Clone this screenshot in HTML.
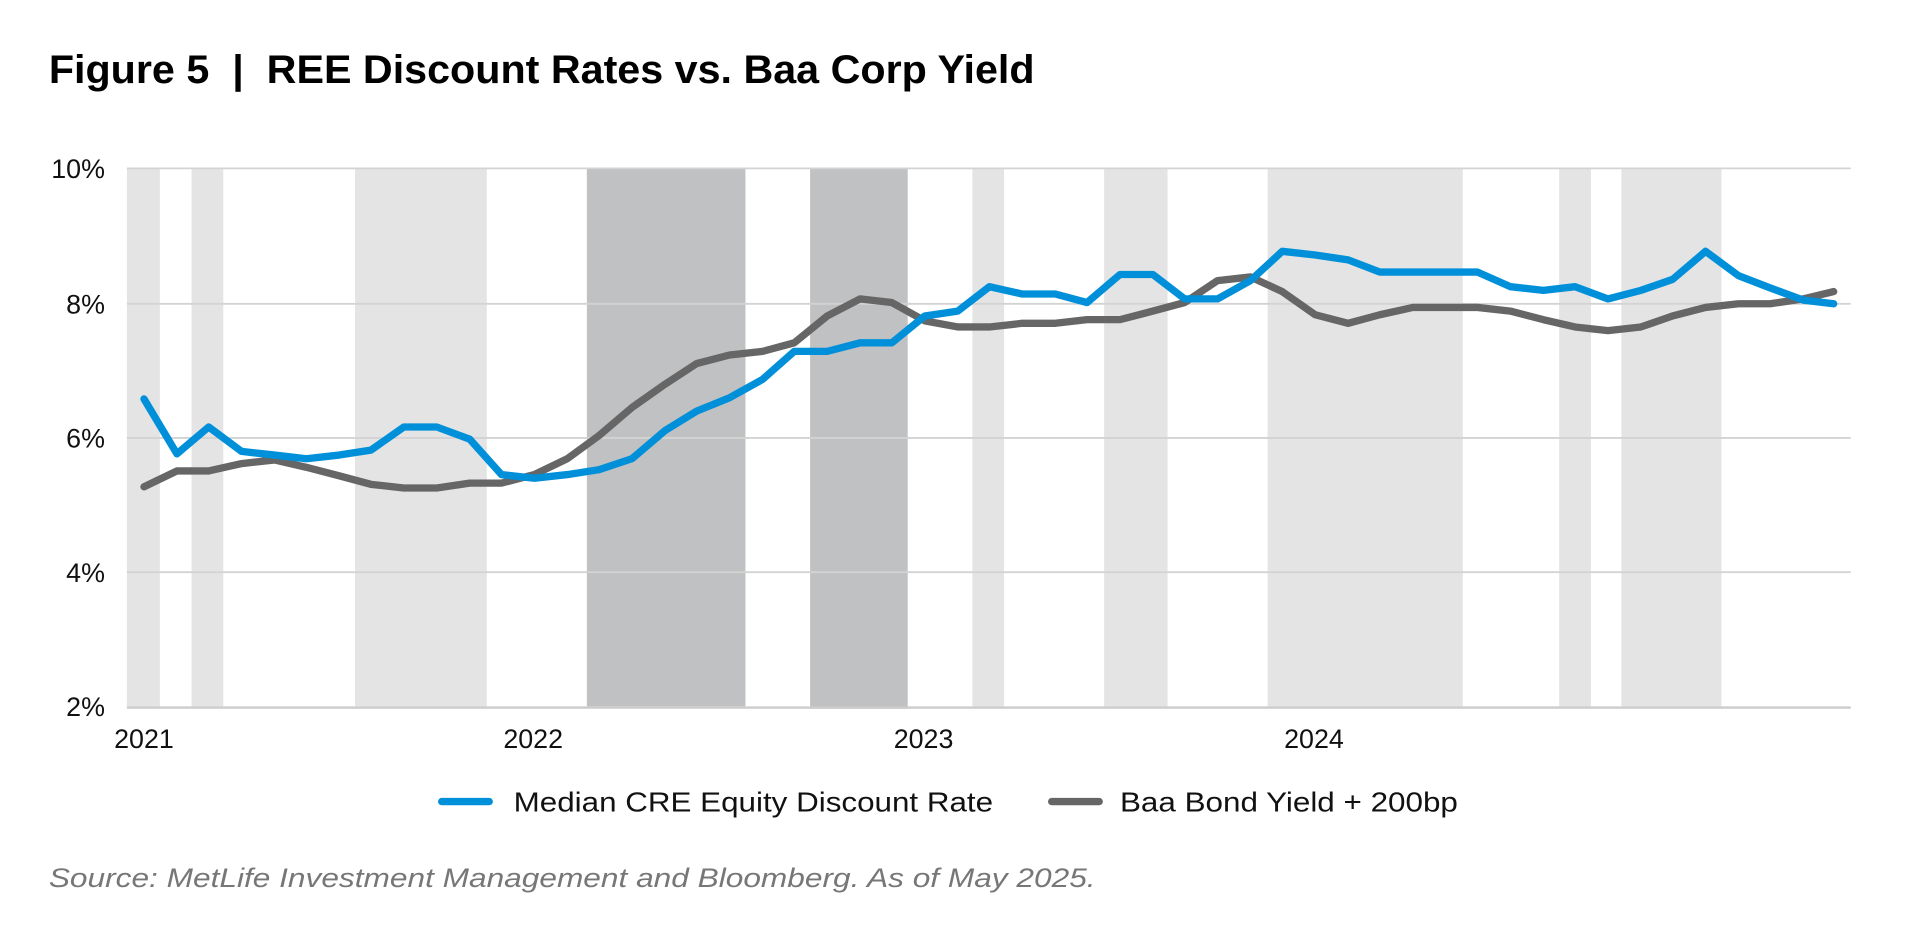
<!DOCTYPE html>
<html><head><meta charset="utf-8"><style>
html,body{margin:0;padding:0;background:#fff;width:1913px;height:945px;overflow:hidden}
svg{display:block}
text{font-family:"Liberation Sans",sans-serif}
</style></head><body>
<svg width="1913" height="945" viewBox="0 0 1568 774.6" xmlns="http://www.w3.org/2000/svg">
<text x="40" y="68" font-size="33" font-weight="bold" fill="#000" textLength="808" lengthAdjust="spacingAndGlyphs" xml:space="preserve">Figure 5  |  REE Discount Rates vs. Baa Corp Yield</text>
<g fill="#e4e4e4">
<rect x="104" y="138" width="27" height="441"/>
<rect x="157" y="138" width="26" height="441"/>
<rect x="291" y="138" width="108" height="441"/>
<rect x="797" y="138" width="26" height="441"/>
<rect x="905" y="138" width="52" height="441"/>
<rect x="1039" y="138" width="160" height="441"/>
<rect x="1278" y="138" width="26" height="441"/>
<rect x="1329" y="138" width="82" height="441"/>
</g>
<g fill="#c0c1c3">
<rect x="481" y="138" width="130" height="441"/>
<rect x="664" y="138" width="80" height="443"/>
</g>
<g stroke="#d3d3d3" stroke-width="1.5">
<line x1="104" x2="1517" y1="138" y2="138"/>
<line x1="104" x2="1517" y1="249" y2="249"/>
<line x1="104" x2="1517" y1="359" y2="359"/>
<line x1="104" x2="1517" y1="469" y2="469"/>
<line x1="104" x2="1517" y1="580" y2="580" stroke="#ccc" stroke-width="2"/>
</g>
<g font-size="22" fill="#111" text-anchor="end">
<text x="86" y="146">10%</text>
<text x="86" y="257">8%</text>
<text x="86" y="367">6%</text>
<text x="86" y="477">4%</text>
<text x="86" y="587">2%</text>
</g>
<g font-size="22" fill="#111" text-anchor="middle">
<text x="118" y="613">2021</text>
<text x="437" y="613">2022</text>
<text x="757" y="613">2023</text>
<text x="1077" y="613">2024</text>
</g>
<polyline fill="none" stroke="#666" stroke-width="6" stroke-linejoin="round" stroke-linecap="round" points="118,399 145,386 171,386 198,380 225,377 251,383 278,390 304,397 331,400 358,400 385,396 411,396 438,389 465,376 491,357 518,334 545,315 571,298 598,291 625,288 651,281 678,259 705,245 731,248 758,263 785,268 811,268 838,265 865,265 891,262 918,262 945,255 971,248 998,230 1025,227 1051,239 1078,258 1105,265 1131,258 1158,252 1185,252 1211,252 1238,255 1265,262 1291,268 1318,271 1345,268 1371,259 1398,252 1425,249 1451,249 1478,245 1503,239"/>
<polyline fill="none" stroke="#0090da" stroke-width="6" stroke-linejoin="round" stroke-linecap="round" points="118,327 145,372 171,350 198,370 225,373 251,376 278,373 304,369 331,350 358,350 385,360 411,389 438,392 465,389 491,385 518,376 545,353 571,337 598,326 625,311 651,288 678,288 705,281 731,281 758,259 785,255 811,235 838,241 865,241 891,248 918,225 945,225 971,245 998,245 1025,230 1051,206 1078,209 1105,213 1131,223 1158,223 1185,223 1211,223 1238,235 1265,238 1291,235 1318,245 1345,238 1371,229 1398,206 1425,226 1451,236 1478,246 1503,249"/>
<line x1="362" x2="401" y1="657" y2="657" stroke="#0090da" stroke-width="6" stroke-linecap="round"/>
<text x="421" y="665" font-size="23" fill="#111" textLength="393" lengthAdjust="spacingAndGlyphs">Median CRE Equity Discount Rate</text>
<line x1="862" x2="901" y1="657" y2="657" stroke="#666" stroke-width="6" stroke-linecap="round"/>
<text x="918" y="665" font-size="23" fill="#111" textLength="277" lengthAdjust="spacingAndGlyphs">Baa Bond Yield + 200bp</text>
<text x="40" y="727" font-size="22" font-style="italic" fill="#777" textLength="858" lengthAdjust="spacingAndGlyphs">Source: MetLife Investment Management and Bloomberg. As of May 2025.</text>
</svg>
</body></html>
